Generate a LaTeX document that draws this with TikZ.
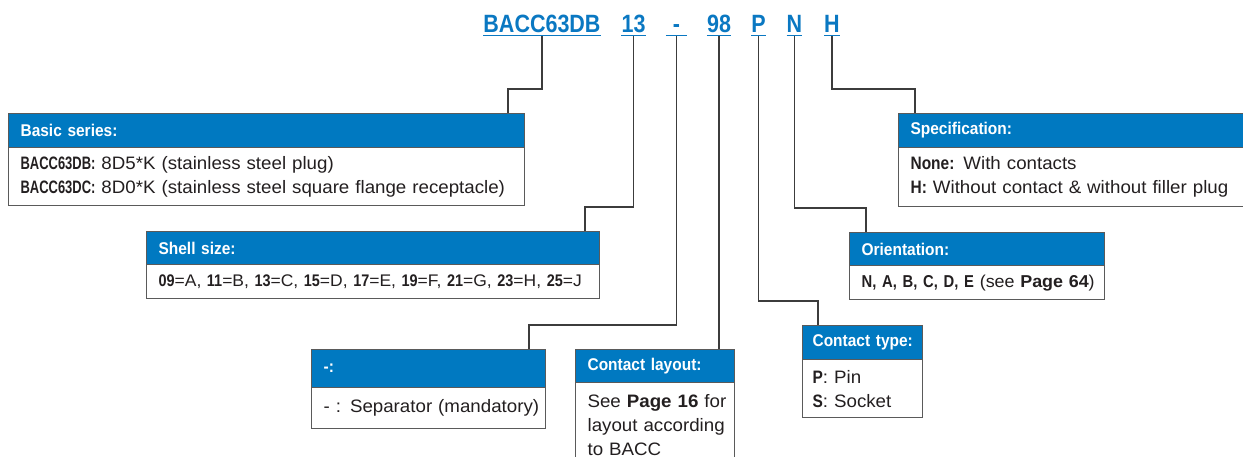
\documentclass[tikz,border=0pt]{standalone}
\usepackage{fontspec}
\setmainfont[FakeStretch=1.04]{Liberation Sans}
\newfontfamily\condb[FakeStretch=0.86]{Liberation Sans}
\newfontfamily\hdrf[FakeStretch=0.91]{Liberation Sans}
\newfontfamily\narrowb[FakeStretch=0.72]{Liberation Sans}
\definecolor{hblue}{HTML}{0079C1}
\definecolor{tblue}{HTML}{0A78C2}
\definecolor{lgray}{HTML}{3C3C3C}
\definecolor{bgray}{HTML}{5A5A5A}
\definecolor{ink}{HTML}{231F20}
\newcommand{\cb}[1]{{\condb\bfseries #1}}
\newcommand{\nb}[1]{{\narrowb\bfseries #1}}
\begin{document}
\begin{tikzpicture}[x=1pt,y=-1pt,
  ttl/.style={font=\condb\bfseries\fontsize{25}{30}\selectfont, text=tblue, anchor=base, inner sep=0pt},
  uline/.style={draw=tblue, line width=1.8pt},
  hdr/.style={draw=bgray, line width=1.2pt, fill=hblue, text=white,
    font=\hdrf\bfseries\fontsize{17}{20}\selectfont, anchor=north west,
    inner xsep=12pt, inner ysep=0pt, align=left},
  bodybox/.style={draw=bgray, line width=1.2pt, fill=white, text=ink,
    font=\fontsize{18}{24}\selectfont, anchor=north west,
    inner xsep=12pt, inner ysep=0pt, align=left},
  conn/.style={draw=lgray, line width=1.3pt}]
\useasboundingbox (0,0) rectangle (1243,457);
\path[clip] (0,0) rectangle (1243,457);
\fill[white] (0,0) rectangle (1243,457);

% title codes
\node[ttl] (t1) at (542,33) {BACC63DB};
\node[ttl] (t2) at (633.5,33) {13};
\node[ttl, minimum width=21pt] (t3) at (676.5,33) {-};
\node[ttl] (t4) at (719,33) {98};
\node[ttl] (t5) at (758.5,33) {P};
\node[ttl] (t6) at (794.5,33) {N};
\node[ttl] (t7) at (832,33) {H};
\foreach \t in {t1,t2,t3,t4,t5,t6,t7}{
  \draw[uline] ([yshift=-2.5pt]\t.base west) -- ([yshift=-2.5pt]\t.base east);
}

% Basic series
\node[hdr, text width=492pt, minimum height=34pt] (basich) at (8,113) {Basic series:};
\node[bodybox, text width=492pt, minimum height=58pt] (basicb) at (8,147)
  {\mbox{\nb{BACC63DB:} 8D5*K (stainless steel plug)}\\
   \mbox{\nb{BACC63DC:} 8D0*K (stainless steel square flange receptacle)}};

% Shell size
\node[hdr, text width=429pt, minimum height=33pt] (shellh) at (146,231) {Shell size:};
\node[bodybox, text width=429pt, minimum height=34pt, font=\fontsize{16.8}{24}\selectfont] (shellb) at (146,264)
  {\mbox{\cb{09}=A, \cb{11}=B, \cb{13}=C, \cb{15}=D, \cb{17}=E, \cb{19}=F, \cb{21}=G, \cb{23}=H, \cb{25}=J}};

% Separator
\node[hdr, text width=210pt, minimum height=38pt] (dashh) at (311,349) {-:};
\node[bodybox, text width=210pt, minimum height=41pt] (dashb) at (311,387)
  {\mbox{- : Separator (mandatory)}};

% Contact layout
\node[hdr, text width=135pt, minimum height=33pt] (layouth) at (575,349) {Contact layout:};
\node[bodybox, text width=135pt, minimum height=84pt] (layoutb) at (575,382)
  {\mbox{See \textbf{Page 16} for}\\ \mbox{layout according}\\ \mbox{to BACC}};
\draw[draw=bgray, line width=1.2pt] (layoutb.south west) -- ++(0,10);
\draw[draw=bgray, line width=1.2pt] (layoutb.south east) -- ++(0,10);

% Contact type
\node[hdr, text width=100pt, inner xsep=10pt, minimum height=34pt] (ctypeh) at (802,325) {\mbox{Contact type:}};
\node[bodybox, text width=100pt, inner xsep=10pt, minimum height=58pt] (ctypeb) at (802,359)
  {\mbox{\cb{P}: Pin}\\ \mbox{\cb{S}: Socket}};

% Orientation
\node[hdr, text width=231pt, minimum height=33pt] (orienth) at (849,232) {Orientation:};
\node[bodybox, text width=231pt, minimum height=34pt, font=\fontsize{17.2}{24}\selectfont] (orientb) at (849,265)
  {\mbox{\cb{N, A, B, C, D, E} (see \textbf{Page 64})}};

% Specification
\node[hdr, text width=328pt, minimum height=34pt] (spech) at (898,113) {Specification:};
\node[bodybox, text width=328pt, minimum height=59pt] (specb) at (898,147)
  {\mbox{\cb{None:} With contacts}\\ \mbox{\cb{H:} Without contact \& without filler plug}};

% elbow points
\coordinate (e1) at (508,89);
\coordinate (e2) at (585,207);
\coordinate (e3) at (529,325);
\coordinate (e5) at (818,301);
\coordinate (e6) at (866,208);
\coordinate (e7) at (915,89);

% connectors
\draw[conn] ([yshift=-3.4pt]t1.base) |- (e1) -- (e1 |- basich.north);
\draw[conn] ([yshift=-3.4pt]t2.base) |- (e2) -- (e2 |- shellh.north);
\draw[conn] ([yshift=-3.4pt]t3.base) |- (e3) -- (e3 |- dashh.north);
\draw[conn] ([yshift=-3.4pt]t4.base) -- (t4.base |- layouth.north);
\draw[conn] ([yshift=-3.4pt]t5.base) |- (e5) -- (e5 |- ctypeh.north);
\draw[conn] ([yshift=-3.4pt]t6.base) |- (e6) -- (e6 |- orienth.north);
\draw[conn] ([yshift=-3.4pt]t7.base) |- (e7) -- (e7 |- spech.north);
\end{tikzpicture}
\end{document}
